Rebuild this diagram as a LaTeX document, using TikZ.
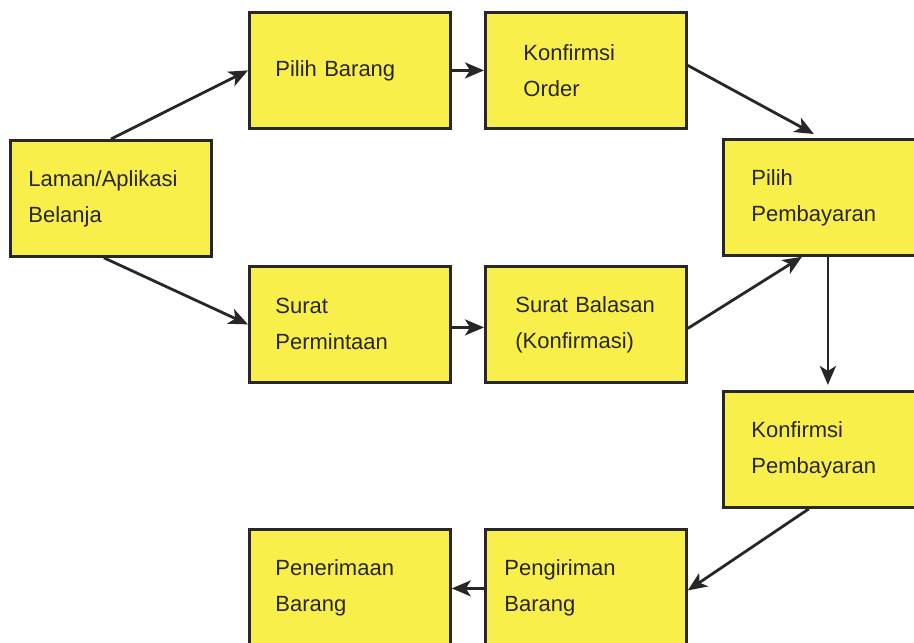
\documentclass[tikz,border=0pt]{standalone}
\usepackage{fontspec}
\setmainfont{Liberation Sans}
\usetikzlibrary{arrows.meta}
\definecolor{kuning}{RGB}{249,239,75}
\definecolor{garis}{RGB}{40,38,40}
\tikzset{
  kotak/.style={draw=garis, line width=2.8pt, fill=kuning, anchor=north west,
    minimum width=201pt, minimum height=116pt, inner xsep=#1,
    text width=201pt-2*#1, align=left, text=garis,
    font=\fontsize{22}{36}\selectfont},
  panah/.style={draw=garis, line width=2.8pt,
    -{Stealth[length=19pt,width=16pt,inset=5pt]}}
}
\begin{document}
\begin{tikzpicture}[x=1pt,y=-1pt]
\useasboundingbox (0,0) rectangle (914,643);
\clip (0,0) rectangle (914,643);

% kotak-kotak proses
\node[kotak=18pt] (laman) at (9,139) {Laman/Aplikasi\\Belanja};
\node[kotak=26pt] (pilih) at (248,11) {Pilih Barang};
\node[kotak=38pt] (order) at (484,11) {Konfirmsi\\Order};
\node[kotak=28pt] (bayar) at (722,138) {Pilih\\Pembayaran};
\node[kotak=26pt] (surat) at (248,265) {Surat\\Permintaan};
\node[kotak=30pt] (balasan) at (484,265) {Surat Balasan\\(Konfirmasi)};
\node[kotak=28pt] (konfbayar) at (722,390) {Konfirmsi\\Pembayaran};
\node[kotak=19pt] (kirim) at (484,528) {Pengiriman\\Barang};
\node[kotak=26pt] (terima) at (248,528) {Penerimaan\\Barang};

% jalur atas
\draw[panah] (laman.north) -- (pilih.west);
\draw[panah] (pilih.east) -- (order.west);
\draw[panah] ([yshift=5pt]order.east) -- ([xshift=-10pt,yshift=4pt]bayar.north);

% jalur bawah
\draw[panah] ([xshift=-7pt]laman.south) -- (surat.west);
\draw[panah] ([yshift=-3pt]surat.east) -- ([yshift=-3pt]balasan.west);
\draw[panah] ([yshift=-4pt]balasan.east) -- ([xshift=-22pt]bayar.south);

% pembayaran sampai penerimaan
\draw[panah] ([xshift=4pt]bayar.south) -- ([xshift=4pt,yshift=5pt]konfbayar.north);
\draw[panah] ([xshift=-15pt]konfbayar.south) -- ([yshift=-3pt]kirim.east);
\draw[panah] ([yshift=-1pt]kirim.west) -- ([yshift=-1pt]terima.east);
\end{tikzpicture}
\end{document}
